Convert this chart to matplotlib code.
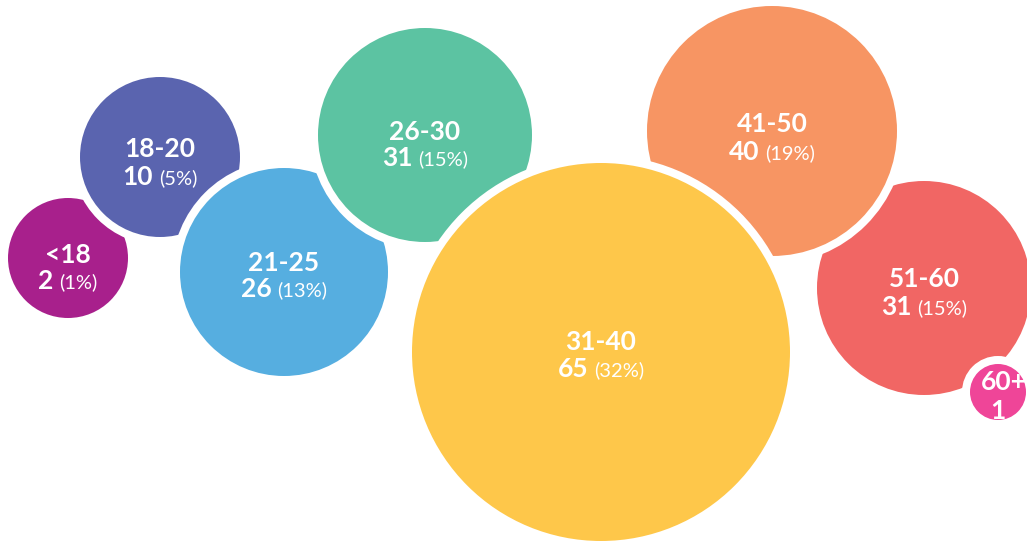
import matplotlib
matplotlib.use("Agg")
import matplotlib.pyplot as plt
from matplotlib.patches import Circle

# ---- data ----
categories = ["<18", "18-20", "21-25", "26-30", "31-40", "41-50", "51-60", "60+"]
counts = [2, 10, 26, 31, 65, 40, 31, 1]
percents = ["(1%)", "(5%)", "(13%)", "(15%)", "(32%)", "(19%)", "(15%)", ""]

# ---- layout (pixel space) ----
centers_x = [68, 160, 284, 425, 601, 772, 924, 998]
centers_y = [258, 157, 272, 135, 352, 131, 288, 392]
radii = [60, 80, 104, 107, 189, 125, 107, 28]
label_dy = [-3, -8, -9, -3, -10, -7, -9, -10]
value_dy = [23, 20, 17, 23, 17, 21, 19, 19]
colors = ["#A8208C", "#5A64AF", "#56AEE0", "#5CC3A2", "#FEC74A",
          "#F79563", "#F16664", "#EF4598"]
draw_order = [0, 1, 2, 3, 6, 7, 5, 4]
GAP = 8

W, H = 1027, 541
fig = plt.figure(figsize=(W / 100, H / 100), dpi=100)
ax = fig.add_axes([0, 0, 1, 1])
ax.set_xlim(0, W)
ax.set_ylim(H, 0)
ax.set_aspect("equal")
ax.axis("off")

for i in draw_order:
    ax.add_patch(Circle((centers_x[i], centers_y[i]), radii[i] + GAP,
                        facecolor="white", edgecolor="none"))
    ax.add_patch(Circle((centers_x[i], centers_y[i]), radii[i],
                        facecolor=colors[i], edgecolor="none"))

fam = ["Lato", "DejaVu Sans"]
fig.canvas.draw()
renderer = fig.canvas.get_renderer()

def width_px(t):
    return t.get_window_extent(renderer).width

for i in range(len(categories)):
    cx, cy = centers_x[i], centers_y[i]
    small = not percents[i]
    tx = cx + 6 if small else cx
    fs_lab = 19
    ax.text(tx, cy + label_dy[i], categories[i], ha="center", va="center",
            color="white", fontsize=fs_lab, fontweight="bold", family=fam,
            zorder=5, clip_on=True)
    tv = ax.text(tx, cy + value_dy[i], str(counts[i]), ha="left", va="center",
                 color="white", fontsize=fs_lab, fontweight="bold", family=fam,
                 zorder=5, clip_on=True)
    if percents[i]:
        tp = ax.text(cx, cy + value_dy[i] + 1, percents[i], ha="left",
                     va="center", color="white", fontsize=14.5, family=fam,
                     zorder=5)
        wv = width_px(tv)
        wp = width_px(tp)
        space = 6
        total = wv + space + wp
        x0 = cx - total / 2
        tv.set_x(x0)
        tp.set_x(x0 + wv + space)
    else:
        tv.set_ha("center")
        tv.set_x(cx)

fig.savefig("out.png", dpi=100, facecolor="white")
